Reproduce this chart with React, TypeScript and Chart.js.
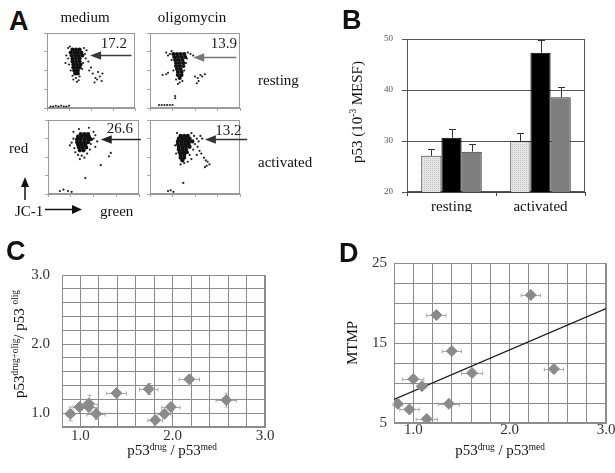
import React, { useEffect, useRef } from 'react';
import { Chart, registerables } from 'chart.js';

Chart.register(...registerables);

const SERIF = "'Liberation Serif', 'Times New Roman', serif";
const SANS = "'Liberation Sans', Arial, sans-serif";

type Pt = [number, number];

// ---------- Panel A: JC-1 dot plots (green on x, red on y; channel scale 0-100) ----------
const restMediumCore: Pt[] = [
  [29, 78], [33, 78], [37, 78],
  [27, 74], [31, 74], [35, 74], [39, 74],
  [28, 70], [32, 70], [36, 70], [40, 70],
  [29, 66], [33, 66], [37, 66],
  [29, 62], [33, 62], [37, 62],
  [30, 58], [34, 58], [38, 58],
  [30, 54], [34, 54], [37, 54],
  [31, 50], [35, 50],
  [32, 46], [35, 46],
];
const restMediumScatter: Pt[] = [
  [24, 80], [42, 80], [45, 77], [26, 82], [43, 72], [44, 66], [24, 66], [25, 58], [41, 60], [27, 50],
  [40, 52], [29, 43], [37, 42], [33, 40], [30, 38], [36, 37], [34, 35], [47, 62], [50, 54], [52, 46],
  [55, 40], [57, 38], [60, 42], [63, 46], [48, 50], [58, 48], [54, 34], [62, 36], [21, 60], [22, 70],
  [4, 2], [7, 2], [10, 3], [13, 2], [16, 3], [19, 2], [22, 2], [25, 3],
];
const restOligoCore: Pt[] = [
  [26, 72], [30, 72], [34, 72], [38, 72],
  [27, 68], [31, 68], [35, 68], [39, 68],
  [28, 64], [32, 64], [36, 64],
  [29, 60], [33, 60], [37, 60],
  [29, 56], [33, 56], [37, 56],
  [30, 52], [34, 52],
  [31, 48], [35, 48],
  [31, 44], [35, 44],
  [33, 40],
];
const restOligoScatter: Pt[] = [
  [18, 74], [22, 72], [20, 70], [24, 76], [42, 74], [45, 72], [48, 70], [41, 66], [24, 64], [40, 60],
  [26, 50], [38, 50], [29, 38], [36, 36], [33, 34], [31, 32], [14, 44], [18, 45], [20, 47], [50, 42],
  [53, 40], [56, 44], [58, 42], [61, 45], [54, 36], [52, 33], [28, 13], [28, 16],
  [10, 4], [13, 4], [16, 4], [19, 4], [22, 4], [25, 4],
];
const actMediumCore: Pt[] = [
  [36, 81], [40, 81], [44, 81],
  [33, 77.5], [37, 77.5], [41, 77.5], [45, 77.5],
  [32, 74], [36, 74], [40, 74], [44, 74], [47, 74],
  [32, 70], [36, 70], [40, 70], [44, 70],
  [33, 66.5], [37, 66.5], [41, 66.5],
  [34, 63], [38, 63], [42, 63],
  [35, 59], [39, 59],
];
const actMediumScatter: Pt[] = [
  [28, 84], [34, 87.7], [45, 89.5], [50, 84], [52, 79.4], [50, 74.8], [54, 71.1], [28, 74.8], [26, 69.3], [24, 65.6],
  [29, 62], [30, 56.4], [33, 52.8], [37, 51.8], [40, 49.1], [35, 47.2], [43, 54.6], [46, 60.1], [52, 63.8], [47, 67.5],
  [69, 55.5], [67, 50.9], [58, 39], [41, 21.5],
  [13, 4], [17, 6], [22, 4], [26, 3],
];
const actOligoCore: Pt[] = [
  [34, 78.5], [38, 78.5], [42, 78.5],
  [32, 74.8], [36, 74.8], [40, 74.8], [44, 74.8],
  [31, 71.1], [35, 71.1], [39, 71.1], [43, 71.1], [47, 71.1],
  [31, 67.5], [35, 67.5], [39, 67.5], [43, 67.5],
  [32, 63.8], [36, 63.8], [40, 63.8], [44, 63.8],
  [32, 60.1], [36, 60.1], [40, 60.1],
  [33, 56.4], [37, 56.4], [41, 56.4],
  [34, 52.8], [38, 52.8],
  [34, 49.1], [38, 49.1],
  [36, 45.4],
];
const actOligoScatter: Pt[] = [
  [30, 82.2], [46, 82.2], [49, 78.5], [52, 74.8], [54, 71.1], [56, 78.5], [58, 74.8], [50, 67.5], [53, 63.8], [48, 60.1],
  [55, 58.3], [57, 54.6], [52, 52.8], [60, 49.1], [62, 45.4], [64, 43.6], [66, 39.9], [63, 38.1], [61, 36.2], [44, 52.8],
  [46, 47.2], [42, 43.6], [38, 41.8], [34, 39.9], [28, 65.6], [29, 54.6], [37, 15],
  [20, 4], [23, 5], [26, 3],
];
const aGateValues = ['17.2', '13.9', '26.6', '13.2'];

// ---------- Panel B: p53 (10^-3 MESF) ----------
const bCategories = ['resting', 'activated'];
const bLightValues = [27.1, 30.0];
const bLightErrors = [1.3, 1.5];
const bBlackValues = [30.65, 47.3];
const bBlackErrors = [1.65, 2.5];
const bGrayValues = [27.9, 38.6];
const bGrayErrors = [1.5, 2.0];
const bTickLabels = ['20', '30', '40', '50'];

// ---------- Panel C ----------
const cX = [0.89, 0.99, 1.09, 1.09, 1.17, 1.39, 1.74, 1.81, 1.91, 1.98, 2.18, 2.58];
const cY = [0.99, 1.09, 1.14, 1.09, 0.99, 1.29, 1.35, 0.9, 0.99, 1.09, 1.49, 1.19];
const cXErr = [0.04, 0.07, 0.1, 0.1, 0.1, 0.11, 0.1, 0.08, 0.07, 0.1, 0.11, 0.11];
const cYErr = [0.1, 0.05, 0.12, 0.06, 0.08, 0.04, 0.08, 0.05, 0.06, 0.05, 0.03, 0.1];
const cXTickLabels = ['1.0', '2.0', '3.0'];
const cYTickLabels = ['1.0', '2.0', '3.0'];

// ---------- Panel D ----------
const dX = [0.84, 0.96, 1.0, 1.09, 1.14, 1.24, 1.37, 1.4, 1.61, 2.22, 2.46];
const dY = [7.4, 6.7, 10.5, 9.6, 5.5, 18.5, 7.4, 14.0, 11.25, 21.0, 11.75];
const dXErr = [0.05, 0.1, 0.11, 0.05, 0.11, 0.1, 0.11, 0.1, 0.11, 0.1, 0.1];
const dYErr = [0, 0, 0, 0, 0, 0, 0, 0, 0, 0, 0];
const dFitX = [0.8, 3.0];
const dFitY = [7.95, 19.3];
const dXTickLabels = ['1.0', '2.0', '3.0'];
const dYTickLabels = ['5', '15', '25'];

// ---------- helpers ----------
const toXY = (a: Pt[]) => a.map(([x, y]) => ({ x, y }));
const zip = (xs: number[], ys: number[]) => xs.map((x, i) => ({ x, y: ys[i] }));

const boxPlugin = (color: string) => ({
  id: 'box',
  beforeDatasetsDraw(chart: any) {
    const { ctx, chartArea: a } = chart;
    ctx.save();
    ctx.strokeStyle = color;
    ctx.lineWidth = 1;
    const l = Math.round(a.left) + 0.5, t = Math.round(a.top) + 0.5;
    const r = Math.round(a.right) - 0.5, b = Math.round(a.bottom) - 0.5;
    ctx.strokeRect(l, t, r - l, b - t);
    ctx.restore();
  },
});

type Ann = { y: number; tip: number; tail: number; lx: number; ly: number; label: string; color: string };

const arrowPlugin = (a: Ann) => ({
  id: 'gateArrow',
  afterDatasetsDraw(chart: any) {
    const { ctx } = chart;
    const xs = chart.scales.x, ys = chart.scales.y;
    const py = Math.round(ys.getPixelForValue(a.y)) + 0.5;
    const tip = xs.getPixelForValue(a.tip), tail = xs.getPixelForValue(a.tail);
    ctx.save();
    ctx.strokeStyle = a.color;
    ctx.fillStyle = a.color;
    ctx.lineWidth = 1.6;
    ctx.beginPath();
    ctx.moveTo(tail, py);
    ctx.lineTo(tip + 8, py);
    ctx.stroke();
    ctx.beginPath();
    ctx.moveTo(tip, py);
    ctx.lineTo(tip + 11, py - 4.2);
    ctx.lineTo(tip + 11, py + 4.2);
    ctx.closePath();
    ctx.fill();
    ctx.fillStyle = '#1a1a1a';
    ctx.font = `15px ${SERIF}`;
    ctx.textAlign = 'center';
    ctx.textBaseline = 'alphabetic';
    ctx.fillText(a.label, xs.getPixelForValue(a.lx), ys.getPixelForValue(a.ly));
    ctx.restore();
  },
});

const barErrorPlugin = (errs: number[][]) => ({
  id: 'barErr',
  afterDatasetsDraw(chart: any) {
    const { ctx } = chart;
    const y = chart.scales.y;
    ctx.save();
    ctx.strokeStyle = '#333';
    ctx.lineWidth = 1;
    chart.data.datasets.forEach((ds: any, i: number) => {
      chart.getDatasetMeta(i).data.forEach((el: any, j: number) => {
        const v = ds.data[j] as number;
        const top = Math.round(y.getPixelForValue(v + errs[i][j])) + 0.5;
        const x = Math.round(el.x) + 0.5;
        ctx.beginPath();
        ctx.moveTo(x, el.y);
        ctx.lineTo(x, top);
        ctx.moveTo(x - 3.5, top);
        ctx.lineTo(x + 3.5, top);
        ctx.stroke();
      });
    });
    ctx.restore();
  },
});

const xyErrorPlugin = (xErr: number[], yErr: number[]) => ({
  id: 'xyErr',
  beforeDatasetsDraw(chart: any) {
    const { ctx } = chart;
    const xs = chart.scales.x, ys = chart.scales.y;
    const pts = chart.data.datasets[0].data as { x: number; y: number }[];
    ctx.save();
    ctx.strokeStyle = '#a8a8a8';
    ctx.lineWidth = 1;
    pts.forEach((p, i) => {
      const px = xs.getPixelForValue(p.x), py = ys.getPixelForValue(p.y);
      if (xErr[i] > 0) {
        const x1 = xs.getPixelForValue(p.x - xErr[i]), x2 = xs.getPixelForValue(p.x + xErr[i]);
        const yy = Math.round(py) + 0.5;
        ctx.beginPath();
        ctx.moveTo(x1, yy); ctx.lineTo(x2, yy);
        ctx.moveTo(x1, yy - 2); ctx.lineTo(x1, yy + 2);
        ctx.moveTo(x2, yy - 2); ctx.lineTo(x2, yy + 2);
        ctx.stroke();
      }
      if (yErr[i] > 0) {
        const y1 = ys.getPixelForValue(p.y - yErr[i]), y2 = ys.getPixelForValue(p.y + yErr[i]);
        const xx = Math.round(px) + 0.5;
        ctx.beginPath();
        ctx.moveTo(xx, y1); ctx.lineTo(xx, y2);
        ctx.moveTo(xx - 2, y1); ctx.lineTo(xx + 2, y1);
        ctx.moveTo(xx - 2, y2); ctx.lineTo(xx + 2, y2);
        ctx.stroke();
      }
    });
    ctx.restore();
  },
});

const baseOptions = (padding: any) => ({
  animation: false as const,
  responsive: false,
  events: [] as any[],
  layout: { padding },
  plugins: { legend: { display: false }, tooltip: { enabled: false } },
});

const DOT_PAD = { left: 6, top: 6, right: 16, bottom: 6 };

const dotPlotConfig = (core: Pt[], scatter: Pt[], ann: Ann) => () => ({
  type: 'scatter',
  data: {
    datasets: [
      { data: toXY(core), pointRadius: 2.1, backgroundColor: '#111', borderWidth: 0 },
      { data: toXY(scatter), pointRadius: 1.1, backgroundColor: '#222', borderWidth: 0 },
    ],
  },
  options: {
    ...baseOptions(DOT_PAD),
    scales: {
      x: {
        type: 'linear', min: 0, max: 100,
        ticks: { display: false, stepSize: 25 },
        grid: { drawOnChartArea: false, tickLength: 3, color: '#aaa' },
        border: { color: '#999' },
        afterFit: (s: any) => { s.height = 0; },
      },
      y: {
        type: 'linear', min: 0, max: 100,
        ticks: { display: false, stepSize: 25 },
        grid: { drawOnChartArea: false, tickLength: 3, color: '#aaa' },
        border: { color: '#999' },
        afterFit: (s: any) => { s.width = 0; },
      },
    },
  },
  plugins: [boxPlugin('#9a9a9a'), arrowPlugin(ann)],
});

const bConfig = (ctx: CanvasRenderingContext2D) => {
  const pc = document.createElement('canvas');
  pc.width = 2; pc.height = 2;
  const p = pc.getContext('2d')!;
  p.fillStyle = '#e6e6e6'; p.fillRect(0, 0, 2, 2);
  p.fillStyle = '#c2c2c2'; p.fillRect(0, 0, 1, 1);
  const pattern = ctx.createPattern(pc, 'repeat');
  const common = { borderWidth: 1, categoryPercentage: 0.68, barPercentage: 1 };
  return {
    type: 'bar',
    data: {
      labels: bCategories,
      datasets: [
        { data: bLightValues, backgroundColor: pattern, borderColor: '#333', ...common },
        { data: bBlackValues, backgroundColor: '#000', borderColor: '#000', ...common },
        { data: bGrayValues, backgroundColor: '#7e7e7e', borderColor: '#333', ...common },
      ],
    },
    options: {
      ...baseOptions({ left: 77, right: 30, top: 39, bottom: 18 }),
      scales: {
        x: {
          grid: { drawOnChartArea: false, offset: true, tickLength: 4, color: '#444' },
          border: { color: '#444' },
          ticks: { font: { family: SERIF, size: 15 }, color: '#111', padding: 2 },
          afterFit: (s: any) => { s.height = 20; },
        },
        y: {
          min: 20, max: 50,
          ticks: {
            stepSize: 10, font: { family: SERIF, size: 9 }, color: '#555', padding: 9,
            callback: (v: any) => { const t = String(v); return bTickLabels.includes(t) ? t : ''; },
          },
          grid: { color: '#555', tickLength: 5 },
          border: { color: '#444' },
          afterFit: (s: any) => { s.width = 30; },
        },
      },
    },
    plugins: [boxPlugin('#555'), barErrorPlugin([bLightErrors, bBlackErrors, bGrayErrors])],
  };
};

const labelFrom = (list: string[], digits: number) => (v: any) => {
  const t = Number(v).toFixed(digits);
  return list.includes(t) && Math.abs(Number(v) - Number(t)) < 1e-6 ? t : '';
};

const scatterConfig = (opts: {
  points: { x: number; y: number }[];
  xErr: number[]; yErr: number[];
  xMin: number; xMax: number; xStep: number; xLabels: string[];
  yMin: number; yMax: number; yStep: number; yLabels: string[]; yDigits: number;
  padding: any; yPad: number; xPad: number;
  fit?: { x: number; y: number }[];
}) => () => {
  const datasets: any[] = [
    {
      type: 'scatter', data: opts.points, pointStyle: 'rectRot', pointRadius: 5.5,
      backgroundColor: '#8a8a8a', borderColor: '#8a8a8a', borderWidth: 1,
    },
  ];
  if (opts.fit) {
    datasets.push({
      type: 'line', data: opts.fit, showLine: true, pointRadius: 0,
      borderColor: '#1a1a1a', borderWidth: 1.4, fill: false,
    });
  }
  return {
    type: 'scatter',
    data: { datasets },
    options: {
      ...baseOptions(opts.padding),
      scales: {
        x: {
          type: 'linear', min: opts.xMin, max: opts.xMax,
          ticks: {
            stepSize: opts.xStep, autoSkip: false, maxRotation: 0,
            font: { family: SERIF, size: 15 }, color: '#333', padding: opts.xPad,
            callback: labelFrom(opts.xLabels, 1),
          },
          grid: { color: '#8c8c8c', drawTicks: false },
          border: { color: '#8c8c8c' },
          afterFit: (s: any) => { s.height = 20; },
        },
        y: {
          type: 'linear', min: opts.yMin, max: opts.yMax,
          ticks: {
            stepSize: opts.yStep, autoSkip: false,
            font: { family: SERIF, size: 15 }, color: '#333', padding: opts.yPad,
            callback: labelFrom(opts.yLabels, opts.yDigits),
          },
          grid: { color: '#8c8c8c', drawTicks: false },
          border: { color: '#8c8c8c' },
          afterFit: (s: any) => { s.width = 30; },
        },
      },
    },
    plugins: [boxPlugin('#8c8c8c'), xyErrorPlugin(opts.xErr, opts.yErr)],
  };
};

function ChartBox({ left, top, width, height, make }: { left: number; top: number; width: number; height: number; make: (ctx: CanvasRenderingContext2D) => any }) {
  const ref = useRef<HTMLCanvasElement>(null);
  useEffect(() => {
    const canvas = ref.current!;
    const chart = new Chart(canvas, make(canvas.getContext('2d')!));
    return () => chart.destroy();
  }, []);
  return <canvas ref={ref} width={width} height={height} style={{ position: 'absolute', left, top, width, height }} />;
}

function Txt({ x, base, size = 15, align = 'left', family = SERIF, weight = 400, children }: any) {
  const k = family === SANS ? 0.8465 : 0.8375;
  return (
    <div
      style={{
        position: 'absolute', left: x, top: base - k * size, fontFamily: family, fontSize: size,
        lineHeight: `${size}px`, fontWeight: weight, whiteSpace: 'nowrap', color: '#111',
        transform: align === 'center' ? 'translateX(-50%)' : align === 'right' ? 'translateX(-100%)' : undefined,
      }}
    >
      {children}
    </div>
  );
}

function VTxt({ cx, cy, size = 15, children }: any) {
  return (
    <div
      style={{
        position: 'absolute', left: cx, top: cy, transform: 'translate(-50%, -50%) rotate(-90deg)',
        fontFamily: SERIF, fontSize: size, lineHeight: `${size}px`, whiteSpace: 'nowrap', color: '#111',
      }}
    >
      {children}
    </div>
  );
}

const Sup = ({ children }: any) => (
  <sup style={{ fontSize: '0.62em', verticalAlign: '0.55em', lineHeight: 0 }}>{children}</sup>
);

const dotBoxes = [
  { L: 47, T: 33, R: 135, B: 108 },
  { L: 150, T: 33, R: 240, B: 108 },
  { L: 48, T: 120, R: 139, B: 194 },
  { L: 150, T: 120, R: 240, B: 194 },
];

const dotMakers = [
  dotPlotConfig(restMediumCore, restMediumScatter, { y: 70.7, tip: 49, tail: 96, lx: 76, ly: 79.6, label: aGateValues[0], color: '#3a3a3a' }),
  dotPlotConfig(restOligoCore, restOligoScatter, { y: 68.4, tip: 48, tail: 96, lx: 82, ly: 79.6, label: aGateValues[1], color: '#777' }),
  dotPlotConfig(actMediumCore, actMediumScatter, { y: 74, tip: 58, tail: 102, lx: 79, ly: 82.4, label: aGateValues[2], color: '#222' }),
  dotPlotConfig(actOligoCore, actOligoScatter, { y: 74, tip: 61, tail: 108, lx: 87, ly: 79.7, label: aGateValues[3], color: '#333' }),
];

const cMake = scatterConfig({
  points: zip(cX, cY), xErr: cXErr, yErr: cYErr,
  xMin: 0.8, xMax: 3.0, xStep: 0.2, xLabels: cXTickLabels,
  yMin: 0.8, yMax: 3.0, yStep: 0.2, yLabels: cYTickLabels, yDigits: 1,
  padding: { left: 32, right: 35, top: 45, bottom: 26 }, yPad: 12, xPad: 0,
});

const dMake = scatterConfig({
  points: zip(dX, dY), xErr: dXErr, yErr: dYErr,
  xMin: 0.8, xMax: 3.0, xStep: 0.2, xLabels: dXTickLabels,
  yMin: 5, yMax: 25, yStep: 2.5, yLabels: dYTickLabels, yDigits: 0,
  padding: { left: 64, right: 9, top: 33, bottom: 30 }, yPad: 7, xPad: -2,
  fit: zip(dFitX, dFitY),
});

export default function App() {
  return (
    <div style={{ position: 'absolute', left: 0, top: 0, width: 615, height: 473, background: '#fff', overflow: 'hidden' }}>
      {dotBoxes.map((b, i) => (
        <ChartBox
          key={i}
          left={b.L - DOT_PAD.left}
          top={b.T - DOT_PAD.top}
          width={b.R - b.L + DOT_PAD.left + DOT_PAD.right}
          height={b.B - b.T + DOT_PAD.top + DOT_PAD.bottom}
          make={dotMakers[i]}
        />
      ))}
      <ChartBox left={300} top={0} width={315} height={230} make={bConfig} />
      <ChartBox left={0} top={230} width={300} height={243} make={cMake} />
      <ChartBox left={300} top={230} width={315} height={243} make={dMake} />

      {/* Panel letters */}
      <Txt x={9} base={30.5} size={27} family={SANS} weight={700}>A</Txt>
      <Txt x={342} base={29.5} size={27} family={SANS} weight={700}>B</Txt>
      <Txt x={6} base={260.5} size={27} family={SANS} weight={700}>C</Txt>
      <Txt x={339} base={263} size={27} family={SANS} weight={700}>D</Txt>

      {/* Panel A labels */}
      <Txt x={85} base={22.7} align="center">medium</Txt>
      <Txt x={192} base={22.7} align="center">oligomycin</Txt>
      <Txt x={258} base={86}>resting</Txt>
      <Txt x={258} base={168}>activated</Txt>
      <Txt x={9} base={154}>red</Txt>
      <Txt x={15} base={216.5}>JC-1</Txt>
      <Txt x={100} base={216.5}>green</Txt>
      <svg width={615} height={473} style={{ position: 'absolute', left: 0, top: 0, pointerEvents: 'none' }}>
        <line x1={25} y1={200} x2={25} y2={184} stroke="#111" strokeWidth={1.5} />
        <polygon points="25,177 21,187 29,187" fill="#111" />
        <line x1={45} y1={209.5} x2={74} y2={209.5} stroke="#111" strokeWidth={1.5} />
        <polygon points="82,209.5 72,205 72,214" fill="#111" />
      </svg>

      {/* Panel B axis title */}
      <VTxt cx={357} cy={112}>p53 (10<Sup>-3</Sup> MESF)</VTxt>

      {/* Panel C axis titles */}
      <VTxt cx={19} cy={344}>p53<Sup>drug+olig</Sup>/ p53 <Sup>olig</Sup></VTxt>
      <Txt x={172} base={456} align="center">p53<Sup>drug</Sup> / p53<Sup>med</Sup></Txt>

      {/* Panel D axis titles */}
      <VTxt cx={352} cy={343}>MTMP</VTxt>
      <Txt x={500} base={456} align="center">p53<Sup>drug</Sup> / p53<Sup>med</Sup></Txt>
    </div>
  );
}
